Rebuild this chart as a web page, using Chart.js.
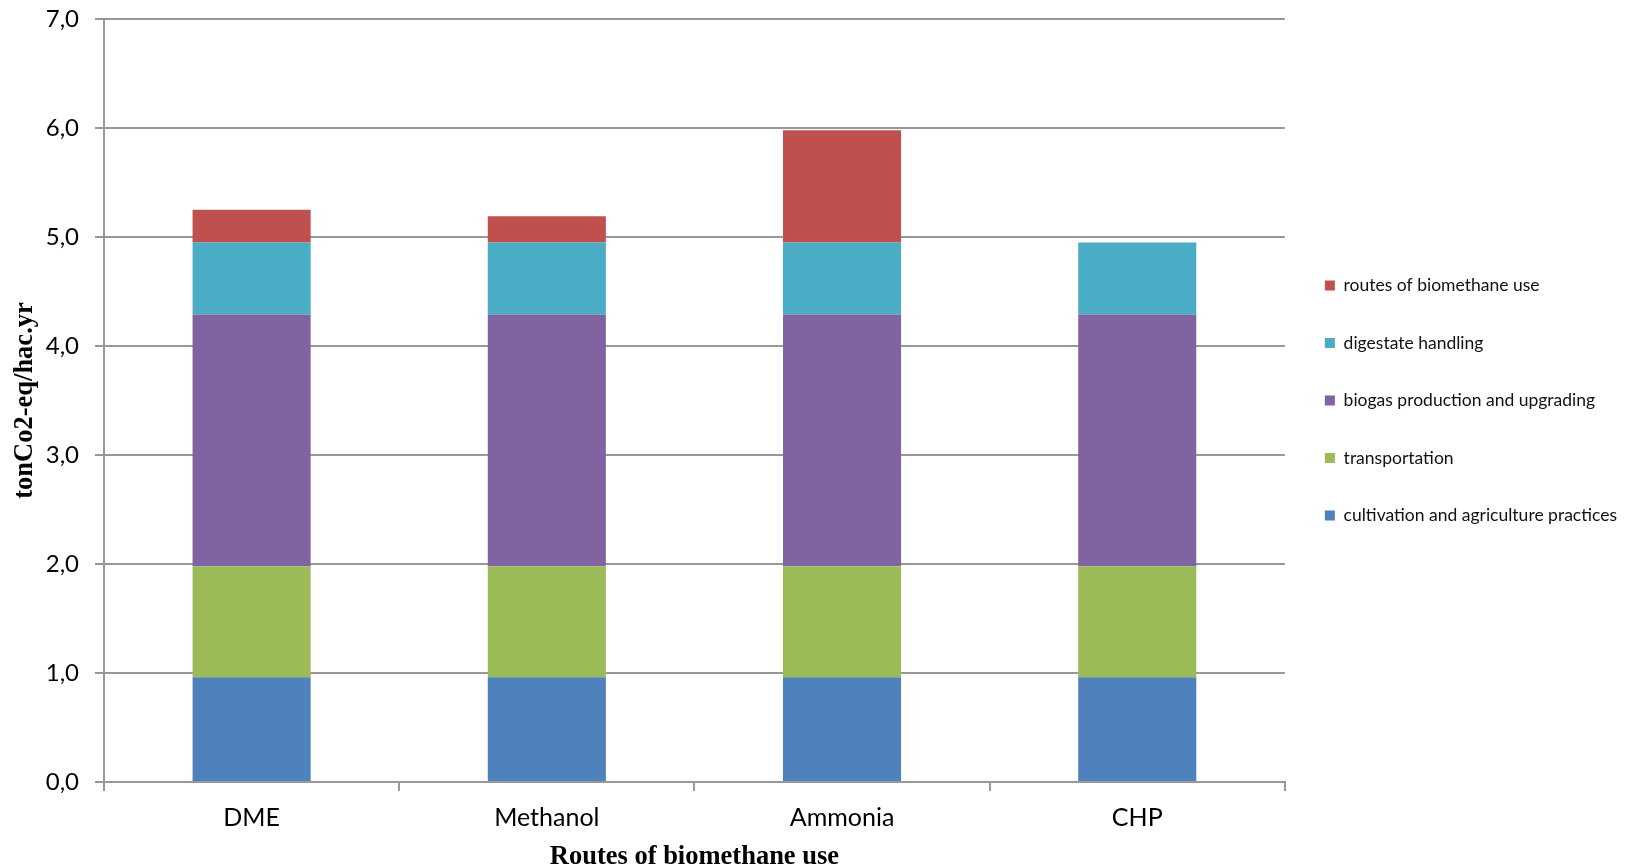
<!DOCTYPE html>
<html>
<head>
<meta charset="utf-8">
<title>Routes of biomethane use</title>
<script src="https://cdn.jsdelivr.net/npm/chart.js@4.4.1/dist/chart.umd.min.js"></script>
<style>
  html, body { margin: 0; padding: 0; background: #ffffff; }
  #wrap { width: 1639px; height: 868px; position: relative; }
</style>
</head>
<body>
<div id="wrap"><canvas id="myChart"></canvas></div>
<script>
// emissions per route, tonCO2-eq per hectare and year
const routes = ['DME', 'Methanol', 'Ammonia', 'CHP'];
const cultivation = [0.96, 0.96, 0.96, 0.96];
const transportation = [1.02, 1.02, 1.02, 1.02];
const biogasProduction = [2.31, 2.31, 2.31, 2.31];
const digestateHandling = [0.66, 0.66, 0.66, 0.66];
const routeUse = [0.30, 0.24, 1.03, 0];
const yTicks = [0, 1, 2, 3, 4, 5, 6, 7];

const gridGrey = '#989898';
const labelFont = 'Lato, "Open Sans", sans-serif';
const titleFont = '"Liberation Serif", "Times New Roman", serif';

const data = {
    labels: routes,
    datasets: [
        { label: 'cultivation and agriculture practices', data: cultivation, backgroundColor: '#4F81BD' },
        { label: 'transportation', data: transportation, backgroundColor: '#9BBB59' },
        { label: 'biogas production and upgrading', data: biogasProduction, backgroundColor: '#8064A2' },
        { label: 'digestate handling', data: digestateHandling, backgroundColor: '#4BACC6' },
        { label: 'routes of biomethane use', data: routeUse, backgroundColor: '#C0504D' }
    ]
};
data.datasets.forEach(ds => {
    ds.borderWidth = 0;
    ds.barPercentage = 0.4;
    ds.categoryPercentage = 1.0;
});

const config = {
    type: 'bar',
    data: data,
    options: {
        responsive: true,
        maintainAspectRatio: false,
        animation: false,
        layout: {
            padding: { top: 0, right: 12, bottom: 0, left: 0 }
        },
        plugins: {
            tooltip: { enabled: false },
            legend: {
                position: 'right',
                fullSize: false,
                reverse: true,
                labels: {
                    boxWidth: 10,
                    boxHeight: 10,
                    padding: 40,
                    color: '#111111',
                    font: { family: labelFont, size: 17.5 }
                }
            }
        },
        scales: {
            x: {
                stacked: true,
                // fixed band under the plot for labels and title
                afterFit: scale => { scale.height = 86; },
                grid: {
                    display: true,
                    drawOnChartArea: false,
                    drawTicks: true,
                    tickLength: 9,
                    color: gridGrey,
                    lineWidth: 2
                },
                border: { display: true, color: gridGrey, width: 2 },
                ticks: {
                    color: '#000000',
                    padding: 14,
                    font: { family: labelFont, size: 25, lineHeight: 1 }
                },
                title: {
                    display: true,
                    text: 'Routes of biomethane use',
                    color: '#000000',
                    padding: { top: 0, bottom: 0 },
                    font: { family: titleFont, size: 26.5, weight: 'bold', lineHeight: 0.85 }
                }
            },
            y: {
                stacked: true,
                min: 0,
                max: 7,
                afterBuildTicks: scale => {
                    scale.ticks = yTicks.map(v => ({ value: v }));
                },
                afterFit: scale => {
                    scale.width = 104;
                    scale.paddingTop = 19;
                },
                grid: {
                    color: gridGrey,
                    lineWidth: 2,
                    tickLength: 9
                },
                border: { display: true, color: gridGrey, width: 2 },
                ticks: {
                    color: '#000000',
                    padding: 16,
                    font: { family: labelFont, size: 24 },
                    callback: v => v.toFixed(1).replace('.', ',')
                },
                title: {
                    display: true,
                    text: 'tonCo2-eq/hac.yr',
                    color: '#000000',
                    padding: { top: 12, bottom: 0 },
                    font: { family: titleFont, size: 26.5, weight: 'bold', lineHeight: 1 }
                }
            }
        }
    }
};

let myChart = new Chart(document.getElementById('myChart'), config);
</script>
</body>
</html>
